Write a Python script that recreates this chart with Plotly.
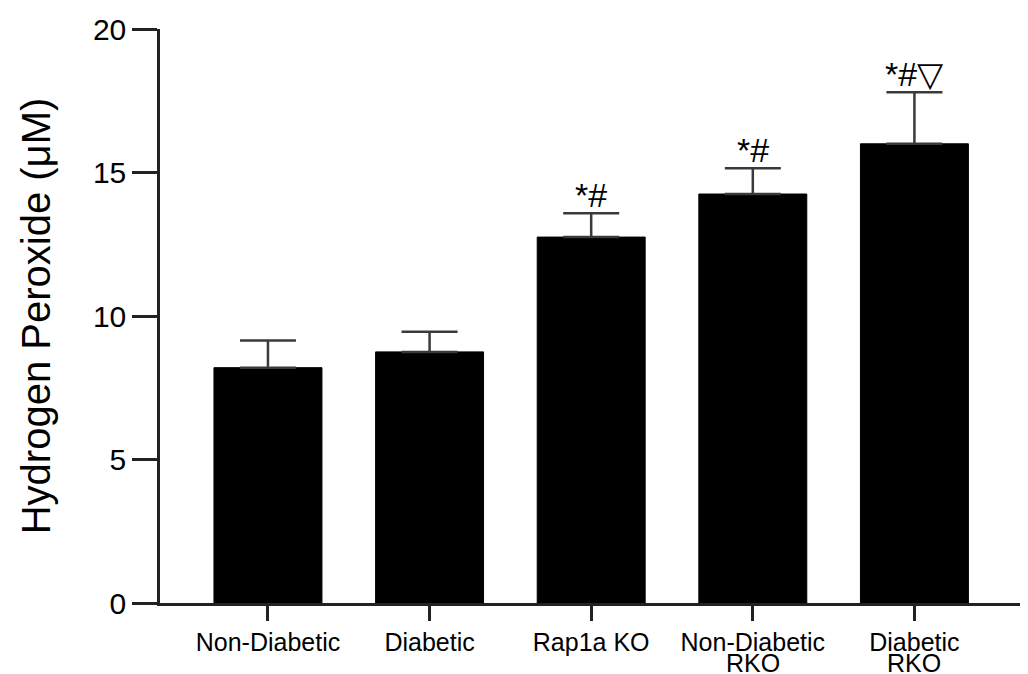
import plotly.graph_objects as go

groups = ["Non-Diabetic", "Diabetic", "Rap1a KO", "Non-Diabetic", "Diabetic"]
second_line = ["", "", "", "RKO", "RKO"]
means = [8.2, 8.75, 12.75, 14.25, 16.0]
sem = [0.95, 0.7, 0.83, 0.9, 1.8]
signif = ["", "", "*#", "*#", "*#\u25bd"]
y_ticks = [0, 5, 10, 15, 20]

FONT = "Liberation Sans, Arial, sans-serif"
xs = list(range(len(groups)))

fig = go.Figure()
fig.add_trace(go.Bar(
    x=xs, y=means, width=0.668,
    marker=dict(color="black", line=dict(color="black", width=1)),
    error_y=dict(type="data", array=sem, arrayminus=[0] * len(sem),
                 symmetric=False, color="#3a3a3a", thickness=2.5, width=28),
    showlegend=False,
))

annotations = []
for x, m, e, s in zip(xs, means, sem, signif):
    if s:
        annotations.append(dict(x=x, y=m + e, xref="x", yref="y", text=s,
                                showarrow=False, yanchor="bottom", yshift=-3,
                                font=dict(family=FONT, size=34, color="black")))
for x, t in zip(xs, second_line):
    if t:
        annotations.append(dict(x=x, y=0, xref="x", yref="paper", text=t,
                                showarrow=False, yanchor="top", yshift=-44,
                                font=dict(family=FONT, size=25, color="black")))

fig.update_layout(
    width=1020, height=666,
    margin=dict(l=152, r=4, t=18, b=71),
    paper_bgcolor="white", plot_bgcolor="white",
    bargap=0.33,
    annotations=annotations,
    font=dict(family=FONT, color="black"),
)
fig.update_xaxes(
    range=[-0.668, 4.678], tickmode="array", tickvals=xs, ticktext=groups,
    showline=True, linecolor="#222", linewidth=2.5,
    ticks="outside", ticklen=15, tickwidth=2.5, tickcolor="#222",
    tickfont=dict(family=FONT, size=25, color="black"),
    showgrid=False, zeroline=False,
)
fig.update_yaxes(
    range=[0, 20], tickmode="array", tickvals=y_ticks,
    showline=True, linecolor="#222", linewidth=2.5,
    ticks="outside", ticklen=25, tickwidth=2.5, tickcolor="#222",
    tickfont=dict(family=FONT, size=30, color="black"),
    showgrid=False, zeroline=False,
    title=dict(text="Hydrogen Peroxide (\u03bcM)", standoff=30,
               font=dict(family=FONT, size=40, color="black")),
)
fig.write_html("out.html")
